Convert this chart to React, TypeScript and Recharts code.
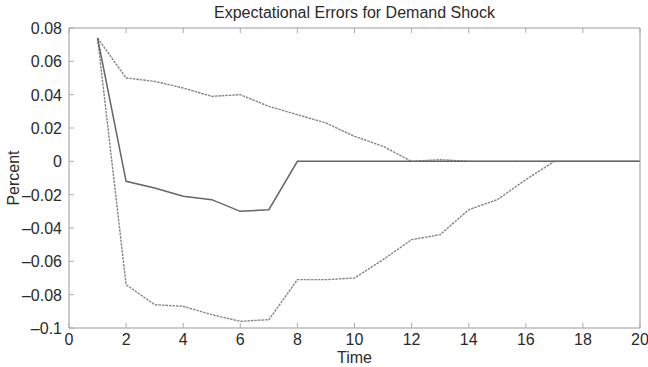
import * as React from 'react'
import { LineChart, Line, XAxis, YAxis } from 'recharts'

const time = [1, 2, 3, 4, 5, 6, 7, 8, 9, 10, 11, 12, 13, 14, 15, 16, 17, 18, 19, 20]
const center = [0.074, -0.012, -0.016, -0.021, -0.023, -0.030, -0.029, 0, 0, 0, 0, 0, 0, 0, 0, 0, 0, 0, 0, 0]
const upper = [0.074, 0.050, 0.048, 0.044, 0.039, 0.040, 0.033, 0.028, 0.023, 0.015, 0.009, 0, 0.001, 0, 0, 0, 0, 0, 0, 0]
const lower = [0.074, -0.074, -0.086, -0.087, -0.092, -0.096, -0.095, -0.071, -0.071, -0.070, -0.059, -0.047, -0.044, -0.029, -0.023, -0.011, 0, 0, 0, 0]

const xTicks = [0, 2, 4, 6, 8, 10, 12, 14, 16, 18, 20]
const yTicks = [-0.1, -0.08, -0.06, -0.04, -0.02, 0, 0.02, 0.04, 0.06, 0.08]

const data = time.map((t, i) => ({ t, center: center[i], upper: upper[i], lower: lower[i] }))

const font = '"Liberation Sans", Arial, sans-serif'
const axisColor = '#999'
const tickColor = '#aaa'
const textColor = '#2a2a2a'
const tickLen = 5
const fmt = (v: number) => String(v).replace('-', '\u2013')

// MATLAB style: ticks point into the plot, labels sit outside
const BottomTick = (p: any) => (
  <g>
    <line x1={p.x} x2={p.x} y1={p.y} y2={p.y - tickLen} stroke={tickColor} />
    <text x={p.x} y={p.y + 17} textAnchor="middle" fontSize={16} fontFamily={font} fill={textColor}>
      {p.payload.value}
    </text>
  </g>
)
const LeftTick = (p: any) => (
  <g>
    <line x1={p.x} x2={p.x + tickLen} y1={p.y} y2={p.y} stroke={tickColor} />
    <text x={p.x - 7} y={p.y + 6} textAnchor="end" fontSize={16} fontFamily={font} fill={textColor}>
      {fmt(p.payload.value)}
    </text>
  </g>
)
const TopTick = (p: any) => <line x1={p.x} x2={p.x} y1={p.y} y2={p.y + tickLen} stroke={tickColor} />
const RightTick = (p: any) => <line x1={p.x} x2={p.x - tickLen} y1={p.y} y2={p.y} stroke={tickColor} />

export default function App() {
  return (
    <div style={{ position: 'absolute', left: 0, top: 0, width: 648, height: 367, background: '#fff', fontFamily: font }}>
      <div style={{ position: 'absolute', left: 69, width: 571, top: 4, textAlign: 'center', fontSize: 16, color: textColor }}>
        Expectational Errors for Demand Shock
      </div>
      <div style={{ position: 'absolute', left: 69, width: 571, top: 349, textAlign: 'center', fontSize: 16, color: textColor }}>
        Time
      </div>
      <div style={{ position: 'absolute', left: 14, top: 178, transform: 'translate(-50%, -50%) rotate(-90deg)', fontSize: 16, color: textColor, whiteSpace: 'nowrap' }}>
        Percent
      </div>
      <LineChart width={648} height={367} data={data} margin={{ top: 27, right: 7, bottom: 0, left: 0 }}>
        <XAxis
          xAxisId="b"
          dataKey="t"
          type="number"
          domain={[0, 20]}
          ticks={xTicks}
          height={39}
          tickSize={0}
          tickMargin={0}
          tickLine={false}
          stroke={axisColor}
          tick={BottomTick}
          interval={0}
        />
        <XAxis
          xAxisId="top"
          orientation="top"
          dataKey="t"
          type="number"
          domain={[0, 20]}
          ticks={xTicks}
          height={1}
          tickSize={0}
          tickMargin={0}
          tickLine={false}
          tick={TopTick}
          stroke={axisColor}
          interval={0}
        />
        <YAxis
          yAxisId="l"
          type="number"
          domain={[-0.1, 0.08]}
          ticks={yTicks}
          width={69}
          tickSize={0}
          tickMargin={0}
          tickLine={false}
          stroke={axisColor}
          tick={LeftTick}
          interval={0}
        />
        <YAxis
          yAxisId="r"
          orientation="right"
          type="number"
          domain={[-0.1, 0.08]}
          ticks={yTicks}
          width={1}
          tickSize={0}
          tickMargin={0}
          tickLine={false}
          tick={RightTick}
          stroke={axisColor}
          interval={0}
        />
        <Line xAxisId="b" yAxisId="l" type="linear" dataKey="upper" stroke="#858585" strokeWidth={1.4} strokeDasharray="2.5 1" dot={false} isAnimationActive={false} />
        <Line xAxisId="b" yAxisId="l" type="linear" dataKey="lower" stroke="#858585" strokeWidth={1.4} strokeDasharray="2.5 1" dot={false} isAnimationActive={false} />
        <Line xAxisId="b" yAxisId="l" type="linear" dataKey="center" stroke="#666" strokeWidth={1.5} dot={false} isAnimationActive={false} />
      </LineChart>
    </div>
  )
}
